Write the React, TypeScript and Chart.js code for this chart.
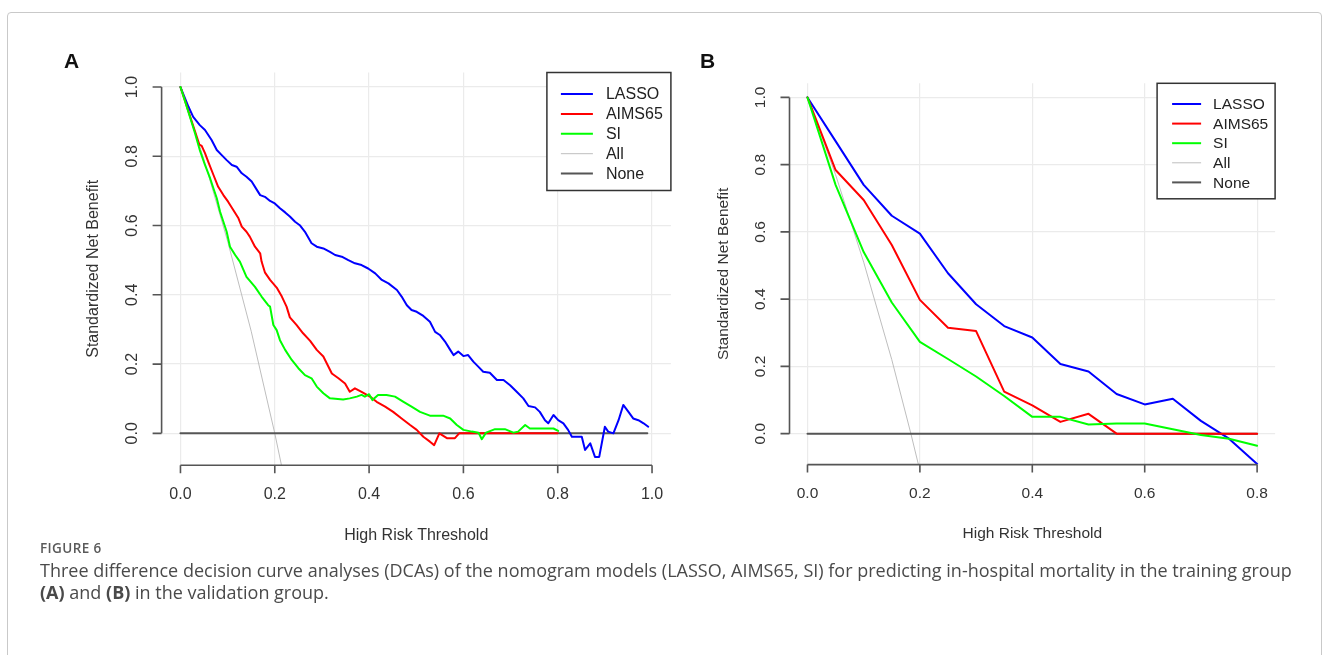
import React, { useEffect, useRef } from "react";
import { Chart, registerables } from "chart.js";

Chart.register(...registerables);

// ---------- Panel A (training group) ----------
const A_LASSO: [number, number][] = [
  [0, 1], [0.017, 0.943], [0.027, 0.914], [0.041, 0.89], [0.052, 0.876], [0.066, 0.847],
  [0.077, 0.818], [0.087, 0.804], [0.098, 0.789], [0.109, 0.775], [0.119, 0.77], [0.13, 0.751],
  [0.14, 0.741], [0.151, 0.727], [0.162, 0.703], [0.169, 0.688], [0.179, 0.683], [0.19, 0.671],
  [0.2, 0.664], [0.211, 0.65], [0.222, 0.638], [0.232, 0.626], [0.243, 0.611], [0.253, 0.601],
  [0.264, 0.582], [0.278, 0.549], [0.289, 0.539], [0.303, 0.534], [0.317, 0.524], [0.328, 0.515],
  [0.342, 0.51], [0.356, 0.5], [0.37, 0.491], [0.384, 0.486], [0.398, 0.476], [0.413, 0.462],
  [0.427, 0.443], [0.441, 0.433], [0.459, 0.414], [0.469, 0.395], [0.48, 0.37], [0.49, 0.356],
  [0.501, 0.351], [0.515, 0.339], [0.529, 0.322], [0.54, 0.293], [0.55, 0.284], [0.561, 0.265],
  [0.572, 0.241], [0.579, 0.226], [0.589, 0.236], [0.6, 0.223], [0.61, 0.226], [0.621, 0.207],
  [0.632, 0.192], [0.642, 0.178], [0.656, 0.175], [0.671, 0.154], [0.685, 0.154], [0.699, 0.139],
  [0.713, 0.12], [0.727, 0.101], [0.738, 0.079], [0.752, 0.075], [0.762, 0.062], [0.773, 0.038],
  [0.78, 0.029], [0.791, 0.053], [0.801, 0.038], [0.812, 0.029], [0.822, 0.01], [0.83, -0.01],
  [0.844, -0.01], [0.851, -0.01], [0.858, -0.048], [0.869, -0.029], [0.879, -0.068], [0.888, -0.068],
  [0.9, 0.019], [0.907, 0.005], [0.918, 0.0], [0.929, 0.038], [0.939, 0.082], [0.95, 0.062],
  [0.96, 0.043], [0.971, 0.038], [0.982, 0.029], [0.992, 0.019],
];
const A_AIMS65: [number, number][] = [
  [0, 1], [0.04, 0.834], [0.045, 0.83], [0.052, 0.809], [0.059, 0.784], [0.07, 0.746],
  [0.08, 0.712], [0.091, 0.688], [0.101, 0.669], [0.112, 0.645], [0.123, 0.621], [0.13, 0.597],
  [0.14, 0.582], [0.147, 0.568], [0.158, 0.539], [0.169, 0.52], [0.172, 0.496], [0.179, 0.465],
  [0.19, 0.443], [0.204, 0.421], [0.215, 0.395], [0.225, 0.366], [0.232, 0.335], [0.246, 0.313],
  [0.26, 0.289], [0.275, 0.267], [0.289, 0.241], [0.303, 0.222], [0.321, 0.173], [0.335, 0.159],
  [0.349, 0.144], [0.359, 0.12], [0.37, 0.13], [0.384, 0.12], [0.402, 0.106], [0.416, 0.091],
  [0.434, 0.077], [0.451, 0.062], [0.469, 0.043], [0.487, 0.024], [0.501, 0.01], [0.515, -0.01],
  [0.529, -0.024], [0.538, -0.034], [0.549, 0.0], [0.565, -0.014], [0.582, -0.014], [0.591, 0],
  [0.8, 0],
];
const A_SI: [number, number][] = [
  [0, 1], [0.01, 0.958], [0.02, 0.914], [0.031, 0.866], [0.041, 0.818], [0.052, 0.775],
  [0.063, 0.736], [0.07, 0.707], [0.077, 0.679], [0.084, 0.64], [0.091, 0.611], [0.098, 0.582],
  [0.105, 0.539], [0.116, 0.515], [0.126, 0.496], [0.14, 0.452], [0.158, 0.423], [0.172, 0.395],
  [0.186, 0.37], [0.19, 0.366], [0.197, 0.313], [0.204, 0.298], [0.211, 0.269], [0.222, 0.241],
  [0.236, 0.212], [0.25, 0.188], [0.264, 0.168], [0.278, 0.159], [0.289, 0.135], [0.303, 0.116],
  [0.317, 0.101], [0.345, 0.098], [0.359, 0.101], [0.374, 0.106], [0.384, 0.111], [0.391, 0.106],
  [0.4, 0.113], [0.407, 0.096], [0.419, 0.111], [0.437, 0.111], [0.455, 0.106], [0.473, 0.091],
  [0.49, 0.077], [0.508, 0.062], [0.529, 0.051], [0.557, 0.051], [0.572, 0.043], [0.586, 0.024],
  [0.6, 0.01], [0.618, 0.005], [0.632, 0.002], [0.639, -0.017], [0.648, 0.002], [0.667, 0.012],
  [0.688, 0.012], [0.706, 0.002], [0.716, 0.005], [0.731, 0.024], [0.741, 0.014], [0.791, 0.014],
  [0.801, 0.007],
];
const A_ALL: [number, number][] = [
  [0, 1], [0.05, 0.79], [0.1, 0.555], [0.15, 0.295], [0.2, 0], [0.22, -0.13],
];
const A_NONE: [number, number][] = [[0, 0], [0.99, 0]];

// ---------- Panel B (validation group) ----------
const B_LASSO: [number, number][] = [
  [0, 1], [0.05, 0.87], [0.1, 0.74], [0.15, 0.648], [0.2, 0.595], [0.25, 0.477], [0.3, 0.385],
  [0.35, 0.32], [0.4, 0.286], [0.45, 0.207], [0.5, 0.185], [0.55, 0.118], [0.6, 0.087],
  [0.65, 0.104], [0.7, 0.038], [0.75, -0.015], [0.8, -0.09],
];
const B_AIMS65: [number, number][] = [
  [0, 1], [0.05, 0.784], [0.1, 0.695], [0.15, 0.561], [0.2, 0.398], [0.25, 0.315], [0.3, 0.305],
  [0.35, 0.125], [0.4, 0.084], [0.45, 0.035], [0.5, 0.059], [0.55, 0], [0.6, 0], [0.65, 0],
  [0.7, 0], [0.75, 0], [0.8, 0],
];
const B_SI: [number, number][] = [
  [0, 1], [0.05, 0.74], [0.1, 0.54], [0.15, 0.39], [0.2, 0.273], [0.25, 0.222], [0.3, 0.17],
  [0.35, 0.112], [0.4, 0.05], [0.45, 0.05], [0.5, 0.027], [0.55, 0.03], [0.6, 0.03],
  [0.65, 0.013], [0.7, -0.004], [0.75, -0.015], [0.8, -0.036],
];
const B_ALL: [number, number][] = [
  [0, 1], [0.05, 0.77], [0.1, 0.51], [0.15, 0.22], [0.184, 0], [0.2, -0.11],
];
const B_NONE: [number, number][] = [[0, 0], [0.8, 0]];

// ---------- Ticks / labels ----------
const A_X_TICKS = [0, 0.2, 0.4, 0.6, 0.8, 1.0];
const B_X_TICKS = [0, 0.2, 0.4, 0.6, 0.8];
const Y_TICKS = [0, 0.2, 0.4, 0.6, 0.8, 1.0];
const SERIES_NAMES = ["LASSO", "AIMS65", "SI", "All", "None"];
const X_TITLE = "High Risk Threshold";
const Y_TITLE = "Standardized Net Benefit";

const COLORS = ["#0000ff", "#ff0000", "#00ff00", "#bebebe", "#555555"];
const WIDTHS = [2, 2, 2, 1, 2];
const GRID = "#ebebeb";
const FONT = '"Liberation Sans", Arial, sans-serif';

const rAxesPlugin = {
  id: "rAxes",
  afterDraw(chart: any, _args: any, o: any) {
    const { ctx, chartArea, scales } = chart;
    const xs = scales.x;
    const ys = scales.y;
    ctx.save();
    ctx.strokeStyle = "#555";
    ctx.lineWidth = 1.6;
    ctx.lineCap = "butt";
    const bottom = chartArea.bottom;
    const left = chartArea.left;
    const xt = xs.ticks.map((t: any) => t.value);
    const yt = ys.ticks.map((t: any) => t.value);
    ctx.beginPath();
    ctx.moveTo(xs.getPixelForValue(xt[0]), bottom);
    ctx.lineTo(xs.getPixelForValue(xt[xt.length - 1]), bottom);
    xt.forEach((v: number) => {
      const px = xs.getPixelForValue(v);
      ctx.moveTo(px, bottom);
      ctx.lineTo(px, bottom + 8);
    });
    ctx.moveTo(left, ys.getPixelForValue(yt[0]));
    ctx.lineTo(left, ys.getPixelForValue(yt[yt.length - 1]));
    yt.forEach((v: number) => {
      const py = ys.getPixelForValue(v);
      ctx.moveTo(left, py);
      ctx.lineTo(left - 9, py);
    });
    ctx.stroke();

    ctx.fillStyle = "#333";
    ctx.font = `${o.fontSize}px ${FONT}`;
    ctx.textAlign = "center";
    ctx.textBaseline = "middle";
    xt.forEach((v: number) => {
      ctx.fillText(v.toFixed(1), xs.getPixelForValue(v), bottom + o.xLabelOff);
    });
    yt.forEach((v: number) => {
      ctx.save();
      ctx.translate(left - o.yLabelOff, ys.getPixelForValue(v));
      ctx.rotate(-Math.PI / 2);
      ctx.fillText(v.toFixed(1), 0, 0);
      ctx.restore();
    });
    ctx.fillText(X_TITLE, (chartArea.left + chartArea.right) / 2, bottom + o.xTitleOff);
    ctx.save();
    ctx.translate(left - o.yTitleOff, (chartArea.top + chartArea.bottom) / 2);
    ctx.rotate(-Math.PI / 2);
    ctx.fillText(Y_TITLE, 0, 0);
    ctx.restore();
    ctx.restore();
  },
};

const rLegendPlugin = {
  id: "rLegend",
  afterDraw(chart: any, _args: any, o: any) {
    const { ctx, chartArea } = chart;
    const x0 = chartArea.right - o.w;
    const y0 = chartArea.top;
    ctx.save();
    ctx.fillStyle = "#fff";
    ctx.fillRect(x0, y0, o.w, o.h);
    ctx.strokeStyle = "#333";
    ctx.lineWidth = 1.5;
    ctx.strokeRect(x0, y0, o.w, o.h);
    ctx.font = `${o.fontSize}px ${FONT}`;
    ctx.textAlign = "left";
    ctx.textBaseline = "middle";
    chart.data.datasets
      .slice()
      .sort((a: any, b: any) => a.legendIndex - b.legendIndex)
      .forEach((ds: any, i: number) => {
        const y = y0 + o.first + o.step * i;
        ctx.strokeStyle = ds.borderColor;
        ctx.lineWidth = ds.borderWidth;
        ctx.beginPath();
        ctx.moveTo(x0 + o.lineX0, y);
        ctx.lineTo(x0 + o.lineX1, y);
        ctx.stroke();
        ctx.fillStyle = "#222";
        ctx.fillText(ds.label, x0 + o.textX, y + 1);
      });
    ctx.restore();
  },
};

function buildDatasets(series: [number, number][][]) {
  // index 0 is drawn last (on top): SI, AIMS65, LASSO, None, All
  const drawOrder = [2, 1, 0, 4, 3];
  return drawOrder.map((k) => ({
    label: SERIES_NAMES[k],
    legendIndex: k,
    data: series[k].map(([x, y]) => ({ x, y })),
    borderColor: COLORS[k],
    backgroundColor: COLORS[k],
    borderWidth: WIDTHS[k],
    pointRadius: 0,
    tension: 0,
    fill: false,
    clip: 0,
    borderJoinStyle: "round",
    borderCapStyle: "round",
  }));
}

function makeConfig(
  series: [number, number][][],
  xTicks: number[],
  xRange: [number, number],
  padding: { left: number; right: number; top: number; bottom: number },
  axesOpts: any,
  legendOpts: any
): any {
  return {
    type: "line",
    data: { datasets: buildDatasets(series) },
    plugins: [rAxesPlugin, rLegendPlugin],
    options: {
      animation: false,
      responsive: false,
      events: [],
      layout: { padding },
      plugins: {
        legend: { display: false },
        tooltip: { enabled: false },
        rAxes: axesOpts,
        rLegend: legendOpts,
      },
      scales: {
        x: {
          type: "linear",
          min: xRange[0],
          max: xRange[1],
          grid: { color: GRID, lineWidth: 1.2, drawTicks: false },
          border: { display: false },
          ticks: { display: false },
          afterBuildTicks: (sc: any) => {
            sc.ticks = xTicks.map((v) => ({ value: v }));
          },
        },
        y: {
          type: "linear",
          min: -0.092,
          max: 1.042,
          grid: { color: GRID, lineWidth: 1.2, drawTicks: false },
          border: { display: false },
          ticks: { display: false },
          afterBuildTicks: (sc: any) => {
            sc.ticks = Y_TICKS.map((v) => ({ value: v }));
          },
        },
      },
    },
  };
}

export default function App() {
  const refA = useRef<HTMLCanvasElement>(null);
  const refB = useRef<HTMLCanvasElement>(null);

  useEffect(() => {
    document.body.style.margin = "0";
    const chartA = new Chart(
      refA.current as HTMLCanvasElement,
      makeConfig(
        [A_LASSO, A_AIMS65, A_SI, A_ALL, A_NONE],
        A_X_TICKS,
        [-0.04, 1.04],
        { left: 161.6, right: 9.1, top: 72.5, bottom: 94.8 },
        { fontSize: 16, xLabelOff: 29.5, yLabelOff: 29.5, xTitleOff: 70, yTitleOff: 68 },
        { fontSize: 16, w: 124, h: 118, first: 21.5, step: 19.9, lineX0: 14, lineX1: 46, textX: 59 }
      )
    );
    const chartB = new Chart(
      refB.current as HTMLCanvasElement,
      makeConfig(
        [B_LASSO, B_AIMS65, B_SI, B_ALL, B_NONE],
        B_X_TICKS,
        [-0.032, 0.832],
        { left: 109.5, right: 54.9, top: 83.3, bottom: 95.4 },
        { fontSize: 15.5, xLabelOff: 29.5, yLabelOff: 28.5, xTitleOff: 69, yTitleOff: 66 },
        { fontSize: 15.5, w: 118, h: 115.5, first: 20.7, step: 19.6, lineX0: 15, lineX1: 44, textX: 56 }
      )
    );
    return () => {
      chartA.destroy();
      chartB.destroy();
    };
  }, []);

  const panelLabel: React.CSSProperties = {
    position: "absolute",
    fontFamily: FONT,
    fontWeight: 700,
    fontSize: 21,
    lineHeight: "21px",
    color: "#111",
  };

  return (
    <div
      style={{
        position: "fixed",
        left: 0,
        top: 0,
        width: 1330,
        height: 655,
        overflow: "hidden",
        background: "#fff",
      }}
    >
      <div
        style={{
          position: "absolute",
          left: 7,
          top: 12,
          width: 1315,
          height: 700,
          border: "1px solid #c9c9c9",
          borderRadius: 4,
          boxSizing: "border-box",
        }}
      />
      <canvas ref={refA} width={680} height={560} style={{ position: "absolute", left: 0, top: 0 }} />
      <canvas ref={refB} width={650} height={560} style={{ position: "absolute", left: 680, top: 0 }} />
      <div style={{ ...panelLabel, left: 64, top: 50 }}>A</div>
      <div style={{ ...panelLabel, left: 700, top: 50 }}>B</div>
      <div
        style={{
          position: "absolute",
          left: 40,
          top: 540,
          fontFamily: '"Open Sans", "Noto Sans", sans-serif',
          fontSize: 13.5,
          letterSpacing: 0.4,
          lineHeight: "16px",
          color: "#5a5a5a",
          fontWeight: 600,
          whiteSpace: "nowrap",
        }}
      >
        FIGURE 6
      </div>
      <div
        style={{
          position: "absolute",
          left: 40,
          top: 559,
          fontFamily: '"Open Sans", "Noto Sans", sans-serif',
          fontSize: 18,
          lineHeight: "22px",
          color: "#4a4a4a",
          whiteSpace: "nowrap",
        }}
      >
        Three difference decision curve analyses (DCAs) of the nomogram models (LASSO, AIMS65, SI) for predicting in-hospital mortality in the training group
        <br />
        <b>(A)</b> and <b>(B)</b> in the validation group.
      </div>
    </div>
  );
}
